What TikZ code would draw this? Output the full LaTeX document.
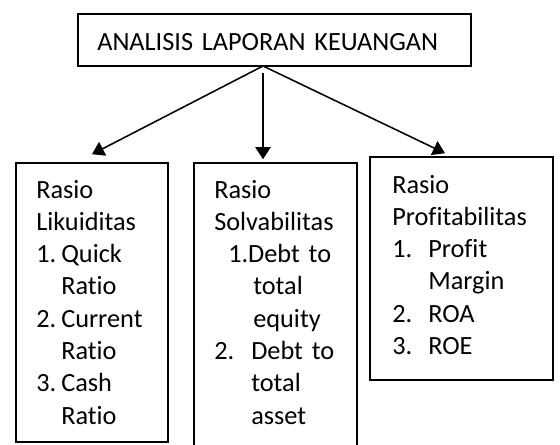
\documentclass[tikz,border=0pt]{standalone}
\usepackage{fontspec}
\setmainfont{Carlito}[Ligatures=NoCommon]
\usetikzlibrary{arrows.meta, calc}

\newcommand{\lnum}[2]{\makebox[#1][l]{#2}}
\newcommand{\lind}[1]{\hspace*{#1}}

\begin{document}
\begin{tikzpicture}[
  every node/.style={font=\fontsize{18.7pt}{22.97pt}\selectfont},
  %% box and label styles
  box/.style={draw, line width=1.1pt, inner sep=0pt},
  txt/.style={inner sep=0pt, anchor=base west, align=left, text width=#1},
  arr/.style={-{Triangle[length=0.3cm, width=0.38cm]}, line width=1.1pt},
]
\useasboundingbox (0,0) rectangle (14,-11.1);

%% =========================================================
%% ROW 0 — title
%% =========================================================
\node[box, minimum width=9.825cm, minimum height=1.3cm] (title) at (6.8625,-1.0) {};
\node[txt=9cm] (titletxt) at (2.425,-1.25) {ANALISIS LAPORAN KEUANGAN};
\coordinate (apex) at (6.575,-1.65);

%% =========================================================
%% ROW 1 — three ratio groups
%% =========================================================
\node[box, minimum width=3.8cm, minimum height=6.975cm] (liq) at (2.3,-7.5625) {};
\node[txt=3.2cm] (liqtxt) at (0.9,-4.95)
  {Rasio\\
   Likuiditas\\
   \lnum{0.625cm}{1.}Quick\\
   \lind{0.625cm}Ratio\\
   \lnum{0.625cm}{2.}Current\\
   \lind{0.625cm}Ratio\\
   \lnum{0.625cm}{3.}Cash\\
   \lind{0.625cm}Ratio};

\node[box, minimum width=4.075cm, minimum height=7.225cm] (solv) at (6.8875,-7.6875) {};
\node[txt=3.5cm] (solvtxt) at (5.35,-4.95)
  {Rasio\\
   Solvabilitas\\
   \lind{0.35cm}1.Debt to\\
   \lind{0.975cm}total\\
   \lind{0.975cm}equity\\
   \lnum{0.925cm}{2.}Debt to\\
   \lind{0.925cm}total\\
   \lind{0.925cm}asset};

\node[box, minimum width=4.575cm, minimum height=5.575cm] (prof) at (11.5375,-6.7125) {};
\node[txt=4cm] (proftxt) at (9.8,-4.825)
  {Rasio\\
   Profitabilitas\\
   \lnum{0.9cm}{1.}Profit\\
   \lind{0.9cm}Margin\\
   \lnum{0.9cm}{2.}ROA\\
   \lnum{0.9cm}{3.}ROE};

%% connectors
\draw[arr] (apex) -- ([yshift=0.2cm]liq.north);
\draw[arr] ([yshift=-0.175cm]apex) -- ([yshift=0.075cm]apex |- solv.north);
\draw[arr] (apex) -- ([xshift=-0.4125cm, yshift=0.075cm]prof.north);

\end{tikzpicture}
\end{document}
